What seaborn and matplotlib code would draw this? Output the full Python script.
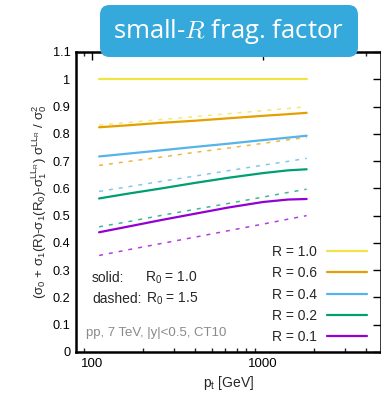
import numpy as np
import pandas as pd
import matplotlib
matplotlib.use("Agg")
import matplotlib.pyplot as plt
import seaborn as sns
from matplotlib.patches import FancyBboxPatch
from matplotlib.lines import Line2D
from matplotlib.ticker import LogLocator, NullFormatter, FixedLocator

# ---- data ----
pt = [110, 160, 250, 400, 630, 1000, 1400, 1800]
radii = ["1.0", "0.6", "0.4", "0.2", "0.1"]
colors = ["#f0e442", "#e69f00", "#56b4e9", "#009e73", "#9400d3"]
solid_R0_10 = {
    "1.0": [1.000, 1.000, 1.000, 1.000, 1.000, 1.000, 1.000, 1.000],
    "0.6": [0.824, 0.831, 0.840, 0.848, 0.857, 0.866, 0.872, 0.877],
    "0.4": [0.717, 0.727, 0.739, 0.752, 0.764, 0.777, 0.786, 0.793],
    "0.2": [0.563, 0.580, 0.599, 0.620, 0.639, 0.656, 0.666, 0.670],
    "0.1": [0.439, 0.459, 0.483, 0.507, 0.530, 0.550, 0.559, 0.561],
}
dashed_R0_15 = {
    "1.0": [0.832, 0.841, 0.852, 0.863, 0.874, 0.885, 0.893, 0.899],
    "0.6": [0.684, 0.698, 0.714, 0.732, 0.748, 0.765, 0.778, 0.787],
    "0.4": [0.589, 0.605, 0.625, 0.645, 0.665, 0.685, 0.699, 0.710],
    "0.2": [0.459, 0.477, 0.500, 0.523, 0.545, 0.568, 0.585, 0.597],
    "0.1": [0.354, 0.374, 0.397, 0.421, 0.445, 0.469, 0.487, 0.500],
}
yticks = [0, 0.1, 0.2, 0.3, 0.4, 0.5, 0.6, 0.7, 0.8, 0.9, 1.0, 1.1]
yticklabels = ["0", "0.1", "0.2", "0.3", "0.4", "0.5", "0.6", "0.7", "0.8", "0.9", "1", "1.1"]

sns.set_theme(style="white")
plt.rcParams["font.family"] = ["Liberation Sans", "DejaVu Sans"]
plt.rcParams["mathtext.fontset"] = "custom"
plt.rcParams["mathtext.rm"] = "Liberation Sans"
plt.rcParams["mathtext.it"] = "Liberation Sans:italic"
plt.rcParams["mathtext.bf"] = "Liberation Sans:bold"

W, H = 381, 396
fig = plt.figure(figsize=(W / 100, H / 100), dpi=100)
ax = fig.add_axes([76 / W, 1 - 352 / H, (381 - 76) / W, (352 - 52) / H])

rows = []
for r in radii:
    for x, y in zip(pt, solid_R0_10[r]):
        rows.append({"pt": x, "val": y, "R": r, "kind": "solid"})
    for x, y in zip(pt, dashed_R0_15[r]):
        rows.append({"pt": x, "val": y, "R": r, "kind": "dashed"})
df = pd.DataFrame(rows)

for r, c in zip(radii, colors):
    d = df[(df.R == r) & (df.kind == "dashed")]
    sns.lineplot(data=d, x="pt", y="val", ax=ax, color=c, lw=1.1, alpha=0.75,
                 dashes=False, legend=False, linestyle=(0, (2.6, 3.9)))
for r, c in zip(radii, colors):
    d = df[(df.R == r) & (df.kind == "solid")]
    sns.lineplot(data=d, x="pt", y="val", ax=ax, color=c, lw=1.6, legend=False)

ax.set_xscale("log")
ax.set_xlim(80.6, 4900)
ax.set_ylim(0, 1.1)
ax.xaxis.set_major_locator(FixedLocator([100, 1000]))
ax.set_xticklabels(["100", "1000"])
ax.xaxis.set_minor_locator(LogLocator(base=10, subs=np.arange(2, 10), numticks=20))
ax.xaxis.set_minor_formatter(NullFormatter())
ax.set_yticks(yticks)
ax.set_yticklabels(yticklabels)
ax.tick_params(axis="both", which="major", direction="in", length=6, width=1.0,
               top=True, right=True, colors="black", labelsize=9.5, pad=4)
ax.tick_params(axis="y", labelsize=9.2)
ax.tick_params(axis="x", which="minor", direction="in", length=3, width=1.0,
               top=True, bottom=True)
for s in ax.spines.values():
    s.set_linewidth(1.8)
    s.set_color("black")

ax.set_xlabel("p$_\\mathrm{t}$ [GeV]", fontsize=10, labelpad=3)
ax.set_ylabel("(σ$_0$ + σ$_1$(R)-σ$_1$(R$_0$)-σ$_1^{\\mathrm{LL}_\\mathrm{R}}$) "
              "σ$^{\\mathrm{LL}_\\mathrm{R}}$ / σ$_0^2$", fontsize=9.5, labelpad=3)

# annotations
def px(x, y):
    return (x - 76) / (381 - 76), (352 - y) / (352 - 52)

ax.text(*px(92, 278), "solid:", transform=ax.transAxes, fontsize=10, va="center")
ax.text(*px(145, 278), "R$_0$ = 1.0", transform=ax.transAxes, fontsize=10, va="center")
ax.text(*px(92, 299), "dashed:", transform=ax.transAxes, fontsize=10, va="center")
ax.text(*px(146, 299), "R$_0$ = 1.5", transform=ax.transAxes, fontsize=10, va="center")
ax.text(*px(86, 333), "pp, 7 TeV, |y|<0.5, CT10", transform=ax.transAxes,
        fontsize=9.5, va="center", color="#8a8a8a")

handles = [Line2D([], [], color=c, lw=1.6) for c in colors]
labels = ["R = " + r for r in radii]
leg = ax.legend(handles, labels, loc="lower right", frameon=False, markerfirst=False,
                fontsize=10, handlelength=2.9, handletextpad=0.7, labelspacing=0.52,
                borderpad=0, borderaxespad=0,
                bbox_to_anchor=px(367, 344), bbox_transform=ax.transAxes)
for t in leg.get_texts():
    t.set_ha("right")

# title box
bx0, bx1, by0, by1 = 100, 358, 5, 57
box = FancyBboxPatch((bx0 / W, 1 - by1 / H), (bx1 - bx0) / W, (by1 - by0) / H,
                     boxstyle="round,pad=0,rounding_size=0.025",
                     transform=fig.transFigure, facecolor="#35a9dc",
                     edgecolor="none", zorder=10)
fig.patches.append(box)
fig.text((bx0 + bx1) / 2 / W, 1 - 32 / H, "small-$R$ frag. factor", ha="center",
         va="center", color="white", fontsize=18.5, family=["Open Sans", "DejaVu Sans"],
         math_fontfamily="cm", zorder=11)

fig.savefig("out.png", dpi=100)
